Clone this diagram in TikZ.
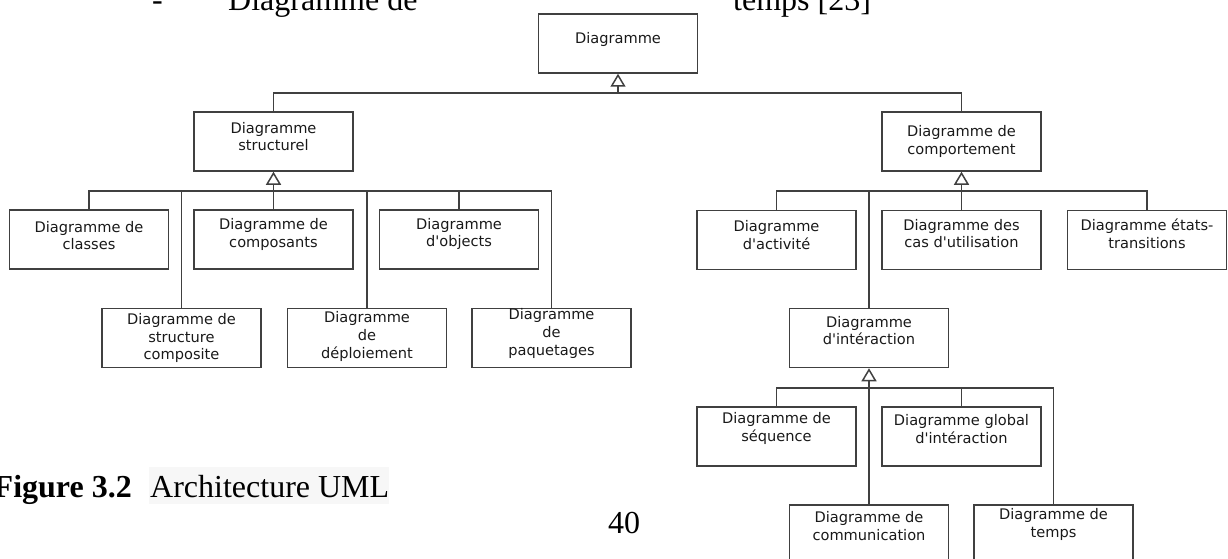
\documentclass[tikz,border=0pt]{standalone}
\usepackage{fontspec}
\setmainfont{Liberation Serif}
\newfontfamily\boxfont{DejaVu Sans}[Ligatures=TeXOff]
\usetikzlibrary{arrows.meta}
\definecolor{linegray}{gray}{0.25}
\definecolor{capbg}{gray}{0.97}

% one UML box: name, centre, raise of its label, label text
\newcommand\umlnode[4]{%
  \node[umlbox] (#1) at (#2) {};
  \node[boxtext, yshift=#3pt] (#1-label) at (#1.center) {#4};}

\begin{document}
\begin{tikzpicture}[x=1pt, y=-1pt,
  umlbox/.style={draw=linegray, line width=1.5pt, minimum width=159pt,
                 minimum height=59pt, inner sep=0pt},
  boxtext/.style={font=\boxfont\fontsize{14.6}{17.7}\selectfont, align=center,
                  inner sep=0pt, text=black!90},
  conn/.style={draw=linegray, line width=1.5pt},
  gen/.style={conn, -{Triangle[open, length=13pt, width=15pt]}},
  serif/.style={font=\fontsize{32}{38}\selectfont, inner sep=0pt, anchor=base west},
]
\useasboundingbox (0,0) rectangle (1228,559);
\clip (0,0) rectangle (1228,559);

% running text above the figure
\node[serif] (dash) at (152,11) {-};
\node[serif] (txtA) at (228,11) {Diagramme de};
\node[serif] (txtB) at (733,11) {temps [23]};

% boxes
\umlnode{dia}{618,43.5}{4}{Diagramme}
\umlnode{struct}{273.5,141.5}{5}{Diagramme\\structurel}
\umlnode{behav}{961.5,141.5}{0}{Diagramme de\\comportement}
\umlnode{classes}{89,239.5}{4}{Diagramme de\\classes}
\umlnode{compo}{273.5,239.5}{5}{Diagramme de\\composants}
\umlnode{objects}{459,239.5}{5.5}{Diagramme\\d'objects}
\umlnode{compstruct}{181.5,338}{0}{Diagramme de\\structure\\composite}
\umlnode{deploy}{367,338}{1.5}{Diagramme\\de\\déploiement}
\umlnode{packages}{551.5,338}{4.7}{Diagramme\\de\\paquetages}
\umlnode{activity}{776.5,240}{5}{Diagramme\\d'activité}
\umlnode{usecase}{961.5,240}{6.5}{Diagramme des\\cas d'utilisation}
\umlnode{states}{1147,240}{6.5}{Diagramme états-\\transitions}
\umlnode{interact}{869,338}{7.3}{Diagramme\\d'intéraction}
\umlnode{sequence}{776.5,436.5}{7.8}{Diagramme de\\séquence}
\umlnode{overview}{961.5,436.5}{7.7}{Diagramme global\\d'intéraction}
\umlnode{commu}{869,534.5}{8.3}{Diagramme de\\communication}
\umlnode{timing}{1053.5,534.5}{10}{Diagramme de\\temps}

% generalisation buses
\coordinate (b0) at (618,93);
\draw[gen] (b0) -- (dia.south);
\draw[conn] (struct.north) |- (b0) -| (behav.north);

\coordinate (b1) at (273.5,191);
\draw[gen] (b1) -- (struct.south);
\draw[conn] (classes.north) |- (b1) -| (packages.north);
\draw[conn] (compo.north) -- (b1);
\draw[conn] (compstruct.north) -- (compstruct.north |- b1);
\draw[conn] (deploy.north) -- (deploy.north |- b1);
\draw[conn] (objects.north) -- (objects.north |- b1);

\coordinate (b2) at (961.5,191);
\draw[gen] (b2) -- (behav.south);
\draw[conn] (activity.north) |- (b2) -| (states.north);
\draw[conn] (usecase.north) -- (b2);
\draw[conn] (interact.north) -- (interact.north |- b2);

\coordinate (b3) at (869,388);
\draw[gen] (b3) -- (interact.south);
\draw[conn] (sequence.north) |- (b3) -| (timing.north);
\draw[conn] (commu.north) -- (b3);
\draw[conn] (overview.north) -- (overview.north |- b3);

% caption and page number
\fill[capbg] (149,467) rectangle (389,504);
\node[serif, anchor=base east, font=\fontsize{32}{38}\selectfont\bfseries] (figlabel) at (132,497) {Figure 3.2};
\node[serif] (figtitle) at (150,497) {Architecture UML};
\node[serif] (page) at (608,533) {40};
\end{tikzpicture}
\end{document}
